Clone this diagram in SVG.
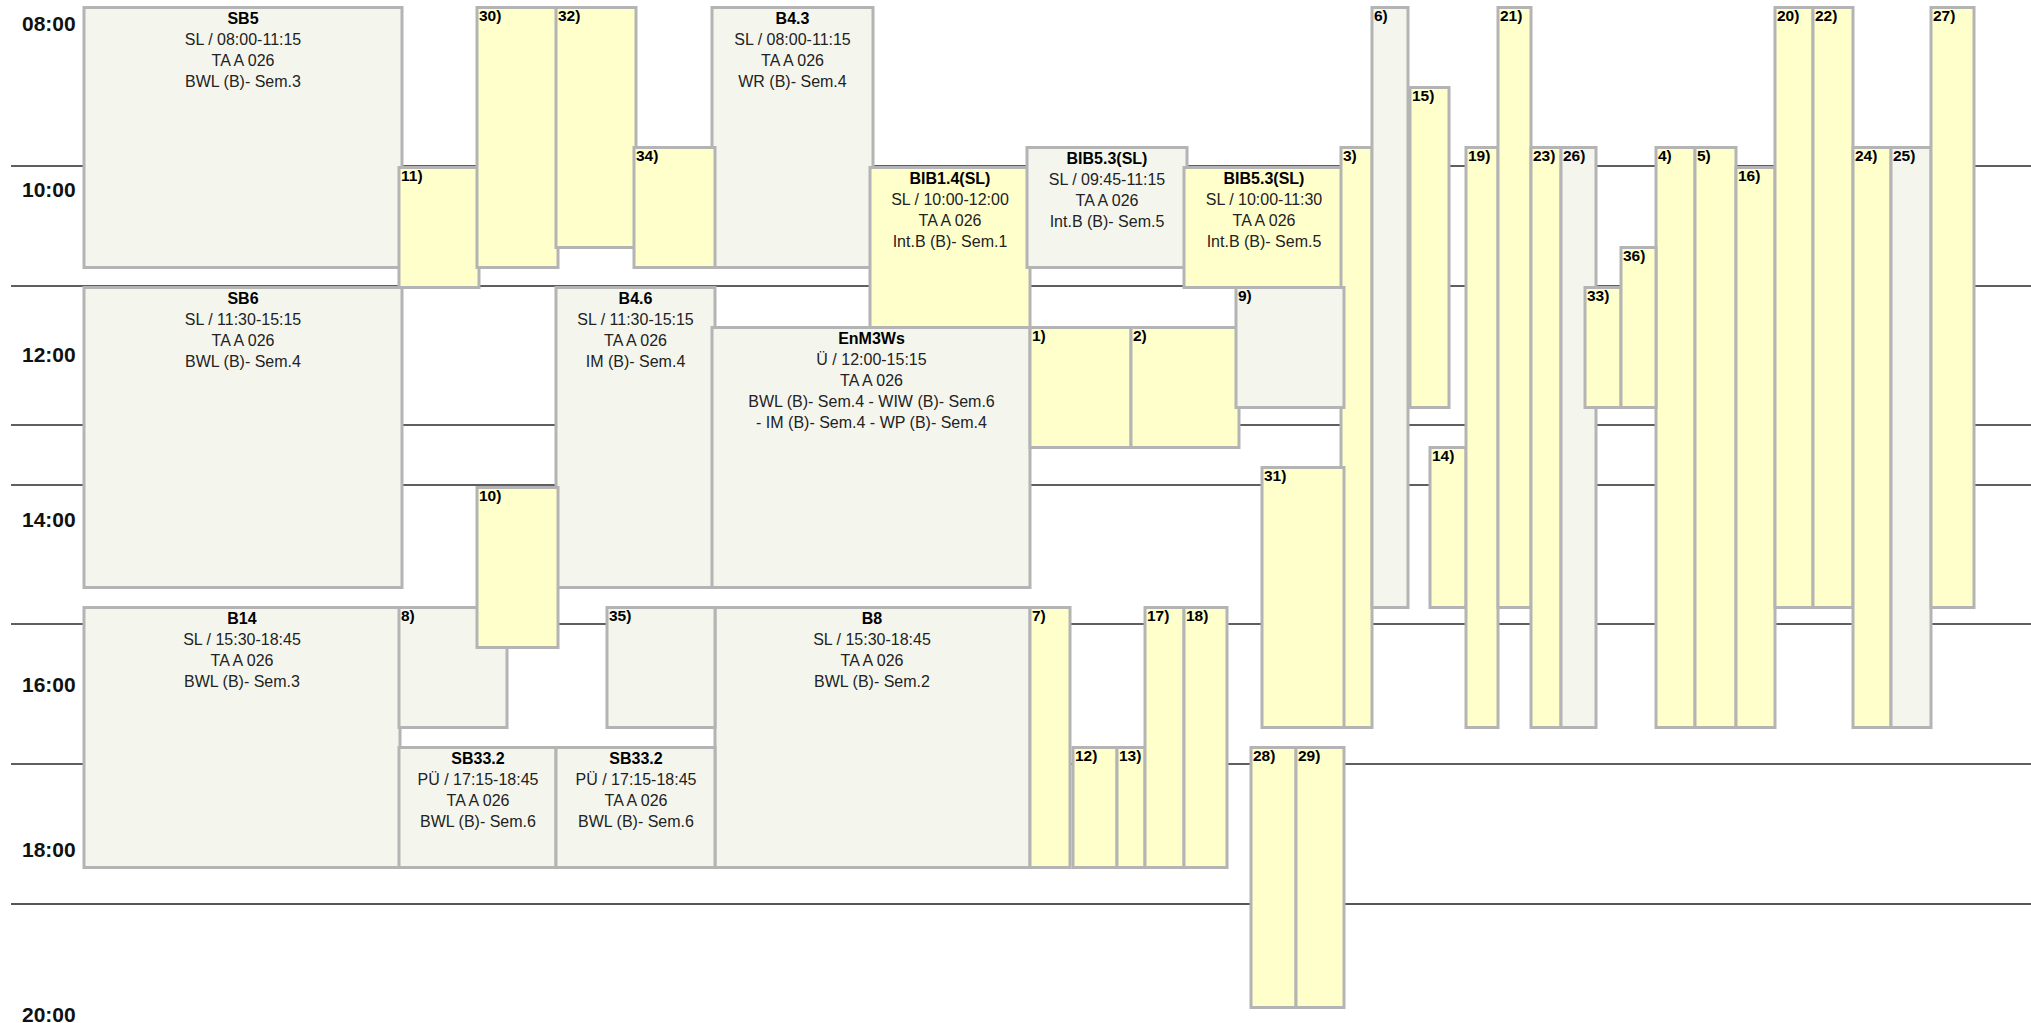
<svg xmlns="http://www.w3.org/2000/svg" width="2031" height="1023" viewBox="0 0 2031 1023">
<style>
.g{fill:#f4f6ee;stroke:#b4b4b4;stroke-width:3}
.y{fill:#ffffcc;stroke:#b4b4b4;stroke-width:3}
text{font-family:"Liberation Sans",Arial,Helvetica,sans-serif}
.t{font-size:16px;fill:#222;text-anchor:middle}
.h{font-size:16px;font-weight:bold;fill:#000;text-anchor:middle}
.n{font-size:15.5px;font-weight:bold;fill:#000}
.tm{font-size:21px;font-weight:bold;fill:#111}
.ln{stroke:#2a2a2a;stroke-width:1.4}
</style>
<rect x="0" y="0" width="2031" height="1023" fill="#fff"/>
<g id="gridlines">
<line class="ln" x1="11" y1="166" x2="2031" y2="166"/>
<line class="ln" x1="11" y1="286" x2="2031" y2="286"/>
<line class="ln" x1="11" y1="425" x2="2031" y2="425"/>
<line class="ln" x1="11" y1="485" x2="2031" y2="485"/>
<line class="ln" x1="11" y1="624" x2="2031" y2="624"/>
<line class="ln" x1="11" y1="764" x2="2031" y2="764"/>
<line x1="11" y1="904" x2="2031" y2="904" stroke="#555" stroke-width="2"/>
</g>
<g id="time-axis">
<text class="tm" x="22" y="31">08:00</text>
<text class="tm" x="22" y="196.5">10:00</text>
<text class="tm" x="22" y="361.5">12:00</text>
<text class="tm" x="22" y="526.5">14:00</text>
<text class="tm" x="22" y="692">16:00</text>
<text class="tm" x="22" y="857">18:00</text>
<text class="tm" x="22" y="1021.5">20:00</text>
</g>
<g id="SB5"><rect class="g" x="84" y="7.5" width="318" height="260"/>
<text class="h" x="243" y="23.5">SB5</text><text class="t" x="243" y="44.5">SL / 08:00-11:15</text><text class="t" x="243" y="65.5">TA A 026</text><text class="t" x="243" y="86.5">BWL (B)- Sem.3</text></g>
<g id="SB6"><rect class="g" x="84" y="287.5" width="318" height="300"/>
<text class="h" x="243" y="303.5">SB6</text><text class="t" x="243" y="324.5">SL / 11:30-15:15</text><text class="t" x="243" y="345.5">TA A 026</text><text class="t" x="243" y="366.5">BWL (B)- Sem.4</text></g>
<g id="B14"><rect class="g" x="84" y="607.5" width="316" height="260"/>
<text class="h" x="242" y="623.5">B14</text><text class="t" x="242" y="644.5">SL / 15:30-18:45</text><text class="t" x="242" y="665.5">TA A 026</text><text class="t" x="242" y="686.5">BWL (B)- Sem.3</text></g>
<g id="B4.3"><rect class="g" x="712" y="7.5" width="161" height="260"/>
<text class="h" x="792.5" y="23.5">B4.3</text><text class="t" x="792.5" y="44.5">SL / 08:00-11:15</text><text class="t" x="792.5" y="65.5">TA A 026</text><text class="t" x="792.5" y="86.5">WR (B)- Sem.4</text></g>
<g id="B4.6"><rect class="g" x="556" y="287.5" width="159" height="300"/>
<text class="h" x="635.5" y="303.5">B4.6</text><text class="t" x="635.5" y="324.5">SL / 11:30-15:15</text><text class="t" x="635.5" y="345.5">TA A 026</text><text class="t" x="635.5" y="366.5">IM (B)- Sem.4</text></g>
<g id="EnM3Ws"><rect class="g" x="712" y="327.5" width="318" height="260"/>
<text class="h" x="871.5" y="343.5">EnM3Ws</text><text class="t" x="871.5" y="364.5">Ü / 12:00-15:15</text><text class="t" x="871.5" y="385.5">TA A 026</text><text class="t" x="871.5" y="406.5">BWL (B)- Sem.4 - WIW (B)- Sem.6</text><text class="t" x="871.5" y="427.5">- IM (B)- Sem.4 - WP (B)- Sem.4</text></g>
<g id="B8"><rect class="g" x="715" y="607.5" width="315" height="260"/>
<text class="h" x="872" y="623.5">B8</text><text class="t" x="872" y="644.5">SL / 15:30-18:45</text><text class="t" x="872" y="665.5">TA A 026</text><text class="t" x="872" y="686.5">BWL (B)- Sem.2</text></g>
<g id="SB33.2-a"><rect class="g" x="399" y="747.5" width="157" height="120"/>
<text class="h" x="478" y="763.5">SB33.2</text><text class="t" x="478" y="784.5">PÜ / 17:15-18:45</text><text class="t" x="478" y="805.5">TA A 026</text><text class="t" x="478" y="826.5">BWL (B)- Sem.6</text></g>
<g id="SB33.2-b"><rect class="g" x="556" y="747.5" width="159" height="120"/>
<text class="h" x="636" y="763.5">SB33.2</text><text class="t" x="636" y="784.5">PÜ / 17:15-18:45</text><text class="t" x="636" y="805.5">TA A 026</text><text class="t" x="636" y="826.5">BWL (B)- Sem.6</text></g>
<g id="BIB1.4SL"><rect class="y" x="870" y="167.5" width="160" height="160"/>
<text class="h" x="950" y="183.5">BIB1.4(SL)</text><text class="t" x="950" y="204.5">SL / 10:00-12:00</text><text class="t" x="950" y="225.5">TA A 026</text><text class="t" x="950" y="246.5">Int.B (B)- Sem.1</text></g>
<g id="BIB5.3SL-a"><rect class="g" x="1027" y="147.5" width="160" height="120"/>
<text class="h" x="1107" y="163.5">BIB5.3(SL)</text><text class="t" x="1107" y="184.5">SL / 09:45-11:15</text><text class="t" x="1107" y="205.5">TA A 026</text><text class="t" x="1107" y="226.5">Int.B (B)- Sem.5</text></g>
<g id="BIB5.3SL-b"><rect class="y" x="1184" y="167.5" width="160" height="120"/>
<text class="h" x="1264" y="183.5">BIB5.3(SL)</text><text class="t" x="1264" y="204.5">SL / 10:00-11:30</text><text class="t" x="1264" y="225.5">TA A 026</text><text class="t" x="1264" y="246.5">Int.B (B)- Sem.5</text></g>
<g id="n1"><rect class="y" x="1030" y="327.5" width="101" height="120"/><text class="n" x="1032" y="341">1)</text></g>
<g id="n2"><rect class="y" x="1131" y="327.5" width="108" height="120"/><text class="n" x="1133" y="341">2)</text></g>
<g id="n3"><rect class="y" x="1341" y="147.5" width="31" height="580"/><text class="n" x="1343" y="161">3)</text></g>
<g id="n4"><rect class="y" x="1656" y="147.5" width="39" height="580"/><text class="n" x="1658" y="161">4)</text></g>
<g id="n5"><rect class="y" x="1695" y="147.5" width="41" height="580"/><text class="n" x="1697" y="161">5)</text></g>
<g id="n6"><rect class="g" x="1372" y="7.5" width="36" height="600"/><text class="n" x="1374" y="21">6)</text></g>
<g id="n7"><rect class="y" x="1030" y="607.5" width="40" height="260"/><text class="n" x="1032" y="621">7)</text></g>
<g id="n8"><rect class="g" x="399" y="607.5" width="108" height="120"/><text class="n" x="401" y="621">8)</text></g>
<g id="n9"><rect class="g" x="1236" y="287.5" width="108" height="120"/><text class="n" x="1238" y="301">9)</text></g>
<g id="n10"><rect class="y" x="477" y="487.5" width="81" height="160"/><text class="n" x="479" y="501">10)</text></g>
<g id="n11"><rect class="y" x="399" y="167.5" width="80" height="120"/><text class="n" x="401" y="181">11)</text></g>
<g id="n12"><rect class="y" x="1073" y="747.5" width="44" height="120"/><text class="n" x="1075" y="761">12)</text></g>
<g id="n13"><rect class="y" x="1117" y="747.5" width="28" height="120"/><text class="n" x="1119" y="761">13)</text></g>
<g id="n14"><rect class="y" x="1430" y="447.5" width="36" height="160"/><text class="n" x="1432" y="461">14)</text></g>
<g id="n15"><rect class="y" x="1410" y="87.5" width="39" height="320"/><text class="n" x="1412" y="101">15)</text></g>
<g id="n16"><rect class="y" x="1736" y="167.5" width="39" height="560"/><text class="n" x="1738" y="181">16)</text></g>
<g id="n17"><rect class="y" x="1145" y="607.5" width="39" height="260"/><text class="n" x="1147" y="621">17)</text></g>
<g id="n18"><rect class="y" x="1184" y="607.5" width="43" height="260"/><text class="n" x="1186" y="621">18)</text></g>
<g id="n19"><rect class="y" x="1466" y="147.5" width="32" height="580"/><text class="n" x="1468" y="161">19)</text></g>
<g id="n20"><rect class="y" x="1775" y="7.5" width="38" height="600"/><text class="n" x="1777" y="21">20)</text></g>
<g id="n21"><rect class="y" x="1498" y="7.5" width="33" height="600"/><text class="n" x="1500" y="21">21)</text></g>
<g id="n22"><rect class="y" x="1813" y="7.5" width="40" height="600"/><text class="n" x="1815" y="21">22)</text></g>
<g id="n23"><rect class="y" x="1531" y="147.5" width="30" height="580"/><text class="n" x="1533" y="161">23)</text></g>
<g id="n24"><rect class="y" x="1853" y="147.5" width="38" height="580"/><text class="n" x="1855" y="161">24)</text></g>
<g id="n25"><rect class="g" x="1891" y="147.5" width="40" height="580"/><text class="n" x="1893" y="161">25)</text></g>
<g id="n26"><rect class="g" x="1561" y="147.5" width="35" height="580"/><text class="n" x="1563" y="161">26)</text></g>
<g id="n27"><rect class="y" x="1931" y="7.5" width="43" height="600"/><text class="n" x="1933" y="21">27)</text></g>
<g id="n28"><rect class="y" x="1251" y="747.5" width="45" height="260"/><text class="n" x="1253" y="761">28)</text></g>
<g id="n29"><rect class="y" x="1296" y="747.5" width="48" height="260"/><text class="n" x="1298" y="761">29)</text></g>
<g id="n30"><rect class="y" x="477" y="7.5" width="81" height="260"/><text class="n" x="479" y="21">30)</text></g>
<g id="n31"><rect class="y" x="1262" y="467.5" width="82" height="260"/><text class="n" x="1264" y="481">31)</text></g>
<g id="n32"><rect class="y" x="556" y="7.5" width="80" height="240"/><text class="n" x="558" y="21">32)</text></g>
<g id="n33"><rect class="y" x="1585" y="287.5" width="36" height="120"/><text class="n" x="1587" y="301">33)</text></g>
<g id="n34"><rect class="y" x="634" y="147.5" width="81" height="120"/><text class="n" x="636" y="161">34)</text></g>
<g id="n35"><rect class="g" x="607" y="607.5" width="108" height="120"/><text class="n" x="609" y="621">35)</text></g>
<g id="n36"><rect class="y" x="1621" y="247.5" width="35" height="160"/><text class="n" x="1623" y="261">36)</text></g>
</svg>
